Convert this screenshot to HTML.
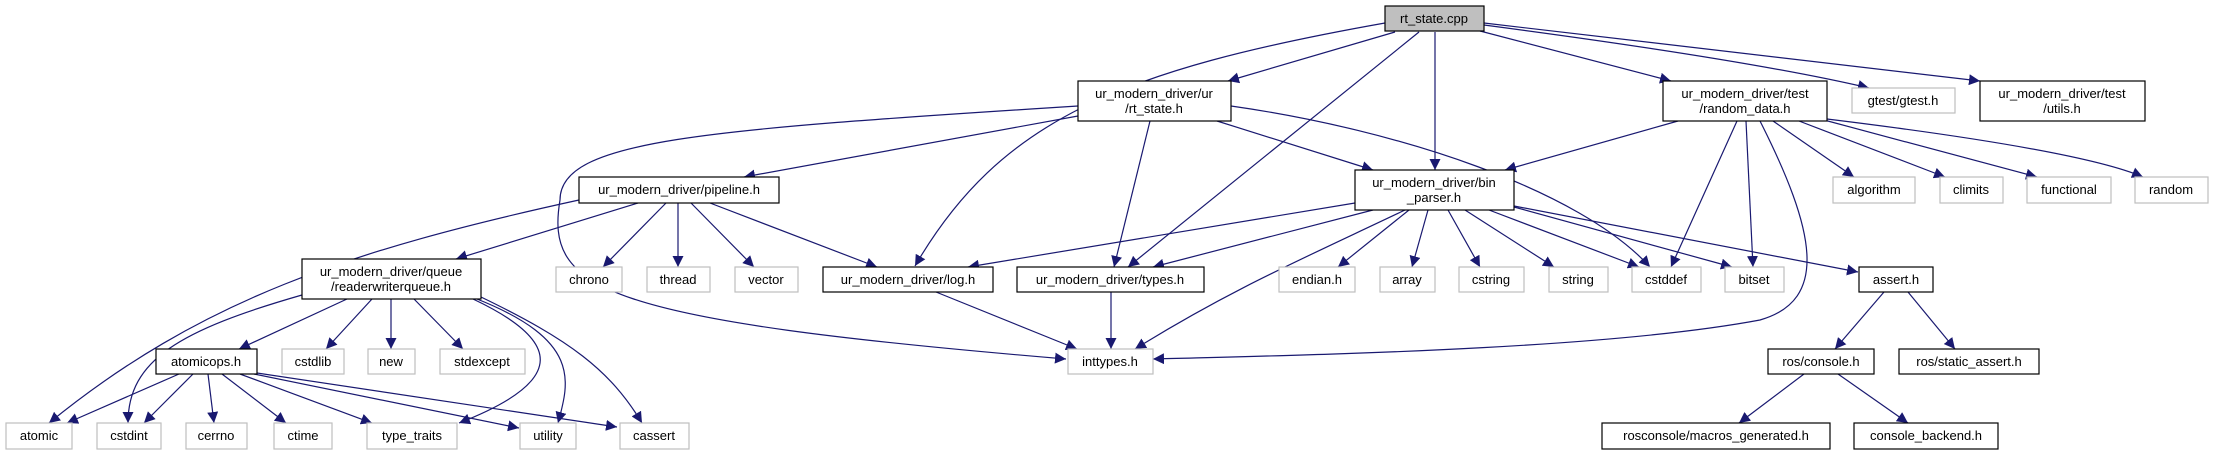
<!DOCTYPE html>
<html><head><meta charset="utf-8"><style>
html,body{margin:0;padding:0;background:#fff;}
svg{display:block;}
text{font-family:"Liberation Sans",sans-serif;font-size:13px;fill:#000;}
</style></head><body>
<svg width="2213" height="455" viewBox="0 0 2213 455" xmlns="http://www.w3.org/2000/svg">
<defs><marker id="a" viewBox="0 0 10 10" refX="10" refY="5" markerWidth="8" markerHeight="8" markerUnits="userSpaceOnUse" orient="auto"><path d="M0,0 L10,5 L0,10 z" fill="#191970"/></marker>
<marker id="b" viewBox="0 0 10 10" refX="10" refY="5" markerWidth="11" markerHeight="11" markerUnits="userSpaceOnUse" orient="auto"><path d="M0,0 L10,5 L0,10 z" fill="#191970"/></marker></defs>
<g fill="none" stroke="#191970" stroke-width="1.2" marker-end="url(#b)">
<path d="M1395,32 L1228,81"/>
<path d="M1385,23 C1120,70 1000,120 915,266"/>
<path d="M1419,32 L1128,267"/>
<path d="M1435,32 L1435,170"/>
<path d="M1480,31 L1671,81"/>
<path d="M1484,25 Q1750,60 1869,88"/>
<path d="M1484,23 L1980,81"/>
<path d="M1078,116 L744,177"/>
<path d="M1078,106 C700,130 560,140 560,200 C545,290 600,320 1066,359"/>
<path d="M1217,121 L1373,170"/>
<path d="M1150,121 L1114,267"/>
<path d="M1231,106 C1400,130 1580,190 1650,267"/>
<path d="M1678,121 L1505,170"/>
<path d="M1737,121 L1671,267"/>
<path d="M1746,121 L1753,267"/>
<path d="M1760,121 C1815,230 1830,300 1760,320 C1600,350 1300,355 1153,359"/>
<path d="M1773,121 L1854,177"/>
<path d="M1799,121 L1945,177"/>
<path d="M1824,120 L2037,177"/>
<path d="M1827,119 Q2080,150 2143,177"/>
<path d="M1355,203 L968,267"/>
<path d="M1373,210 L1153,267"/>
<path d="M1405,210 C1300,260 1230,290 1135,349"/>
<path d="M1409,210 L1338,267"/>
<path d="M1428,210 L1412,267"/>
<path d="M1448,210 L1480,267"/>
<path d="M1465,210 L1554,267"/>
<path d="M1489,210 L1639,267"/>
<path d="M1514,207 L1732,267"/>
<path d="M1514,206 L1858,272"/>
<path d="M579,200 C350,250 200,300 49,423"/>
<path d="M638,203 L456,259"/>
<path d="M666,203 L603,267"/>
<path d="M678,203 L678,267"/>
<path d="M691,203 L754,267"/>
<path d="M710,203 L877,267"/>
<path d="M302,295 C180,330 128,360 128,423"/>
<path d="M347,299 L239,349"/>
<path d="M372,299 L326,349"/>
<path d="M391,299 L391,349"/>
<path d="M414,299 L463,349"/>
<path d="M473,299 C560,340 570,380 459,423"/>
<path d="M477,299 C580,340 570,380 558,423"/>
<path d="M481,297 C570,340 610,370 642,423"/>
<path d="M179,374 L67,423"/>
<path d="M193,374 L144,423"/>
<path d="M208,374 L214,423"/>
<path d="M222,374 L286,423"/>
<path d="M240,374 L372,423"/>
<path d="M254,374 L519,428"/>
<path d="M257,373 L617,427"/>
<path d="M936,292 L1077,349"/>
<path d="M1111,292 L1111,349"/>
<path d="M1884,292 L1835,349"/>
<path d="M1908,292 L1955,349"/>
<path d="M1804,374 L1739,423"/>
<path d="M1838,374 L1908,423"/>
</g>
<g stroke-width="1.2">
<rect x="1385" y="6" width="99" height="25" fill="#bfbfbf" stroke="#000"/>
<g fill="#fff" stroke="#000">
<rect x="1078" y="81" width="153" height="40"/>
<rect x="1663" y="81" width="164" height="40"/>
<rect x="1980" y="81" width="165" height="40"/>
<rect x="1355" y="170" width="159" height="40"/>
<rect x="579" y="177" width="200" height="26"/>
<rect x="302" y="259" width="179" height="40"/>
<rect x="156" y="349" width="101" height="25"/>
<rect x="823" y="267" width="170" height="25"/>
<rect x="1017" y="267" width="187" height="25"/>
<rect x="1859" y="267" width="74" height="25"/>
<rect x="1768" y="349" width="106" height="25"/>
<rect x="1899" y="349" width="140" height="25"/>
<rect x="1602" y="423" width="228" height="26"/>
<rect x="1854" y="423" width="144" height="26"/>
</g>
<g fill="#fff" stroke="#bfbfbf">
<rect x="1852" y="88" width="103" height="25"/>
<rect x="1833" y="177" width="82" height="26"/>
<rect x="1940" y="177" width="63" height="26"/>
<rect x="2027" y="177" width="84" height="26"/>
<rect x="2135" y="177" width="73" height="26"/>
<rect x="556" y="267" width="66" height="25"/>
<rect x="647" y="267" width="63" height="25"/>
<rect x="735" y="267" width="63" height="25"/>
<rect x="1279" y="267" width="76" height="25"/>
<rect x="1380" y="267" width="55" height="25"/>
<rect x="1459" y="267" width="65" height="25"/>
<rect x="1549" y="267" width="59" height="25"/>
<rect x="1632" y="267" width="69" height="25"/>
<rect x="1725" y="267" width="59" height="25"/>
<rect x="1068" y="349" width="85" height="25"/>
<rect x="282" y="349" width="62" height="25"/>
<rect x="368" y="349" width="47" height="25"/>
<rect x="440" y="349" width="85" height="25"/>
<rect x="6" y="423" width="66" height="26"/>
<rect x="97" y="423" width="64" height="26"/>
<rect x="186" y="423" width="61" height="26"/>
<rect x="274" y="423" width="58" height="26"/>
<rect x="367" y="423" width="90" height="26"/>
<rect x="520" y="423" width="56" height="26"/>
<rect x="620" y="423" width="69" height="26"/>
</g></g>
<g text-anchor="middle">
<text x="1434" y="23">rt_state.cpp</text>
<text x="1154" y="98">ur_modern_driver/ur</text><text x="1154" y="113">/rt_state.h</text>
<text x="1745" y="98">ur_modern_driver/test</text><text x="1745" y="113">/random_data.h</text>
<text x="2062" y="98">ur_modern_driver/test</text><text x="2062" y="113">/utils.h</text>
<text x="1434" y="187">ur_modern_driver/bin</text><text x="1434" y="202">_parser.h</text>
<text x="679" y="194">ur_modern_driver/pipeline.h</text>
<text x="391" y="276">ur_modern_driver/queue</text><text x="391" y="291">/readerwriterqueue.h</text>
<text x="206" y="366">atomicops.h</text>
<text x="908" y="284">ur_modern_driver/log.h</text>
<text x="1110" y="284">ur_modern_driver/types.h</text>
<text x="1896" y="284">assert.h</text>
<text x="1821" y="366">ros/console.h</text>
<text x="1969" y="366">ros/static_assert.h</text>
<text x="1716" y="440">rosconsole/macros_generated.h</text>
<text x="1926" y="440">console_backend.h</text>
<text x="1903" y="105">gtest/gtest.h</text>
<text x="1874" y="194">algorithm</text>
<text x="1971" y="194">climits</text>
<text x="2069" y="194">functional</text>
<text x="2171" y="194">random</text>
<text x="589" y="284">chrono</text>
<text x="678" y="284">thread</text>
<text x="766" y="284">vector</text>
<text x="1317" y="284">endian.h</text>
<text x="1407" y="284">array</text>
<text x="1491" y="284">cstring</text>
<text x="1578" y="284">string</text>
<text x="1666" y="284">cstddef</text>
<text x="1754" y="284">bitset</text>
<text x="1110" y="366">inttypes.h</text>
<text x="313" y="366">cstdlib</text>
<text x="391" y="366">new</text>
<text x="482" y="366">stdexcept</text>
<text x="39" y="440">atomic</text>
<text x="129" y="440">cstdint</text>
<text x="216" y="440">cerrno</text>
<text x="303" y="440">ctime</text>
<text x="412" y="440">type_traits</text>
<text x="548" y="440">utility</text>
<text x="654" y="440">cassert</text>
</g>
</svg>
</body></html>
